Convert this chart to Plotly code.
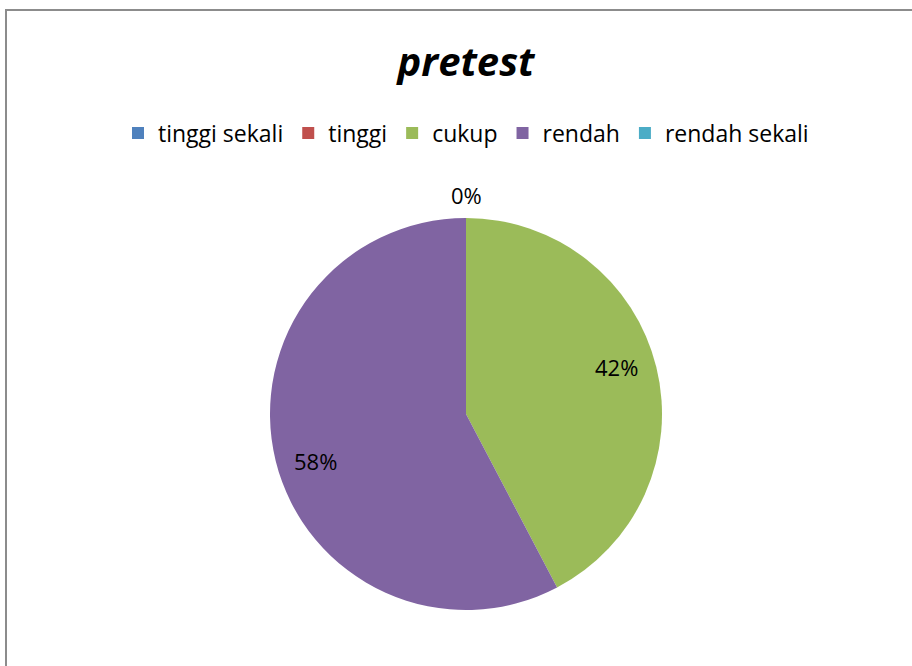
import math
import plotly.graph_objects as go

# data
labels = ["tinggi sekali", "tinggi", "cukup", "rendah", "rendah sekali"]
values = [0, 0, 11, 15, 0]
colors = ["#4F81BD", "#C0504D", "#9BBB59", "#8064A2", "#4BACC6"]

W, H = 912, 666
ML, MR, MT, MB = 20, 0, 218, 56
pw, ph = W - ML - MR, H - MT - MB
R = min(pw, ph) / 2
lab_font = dict(family="Open Sans, sans-serif", size=22, color="black")

total = sum(values)

fig = go.Figure()
fig.add_trace(go.Pie(
    labels=labels,
    values=values,
    marker=dict(colors=colors),
    sort=False,
    direction="clockwise",
    rotation=0,
    textinfo="none",
    showlegend=True,
))

# data labels, placed like Excel (inside, ~0.79 of the radius)
cum = 0
zero_done = False
for v in values:
    frac = v / total
    if v == 0:
        if not zero_done:
            fig.add_annotation(
                text=f"{frac:.0%}", x=0.5, y=1.0, xref="paper", yref="paper",
                xanchor="center", yanchor="bottom", yshift=6, showarrow=False,
                font=lab_font,
            )
            zero_done = True
        continue
    mid = (cum + frac / 2) * 2 * math.pi
    cum += frac
    r = 0.79 * R
    fig.add_annotation(
        text=f"{frac:.0%}", xref="paper", yref="paper",
        x=0.5 + r * math.sin(mid) / pw, y=0.5 + r * math.cos(mid) / ph,
        xanchor="center", yanchor="middle", yshift=10 * math.sin(mid),
        showarrow=False, font=lab_font,
    )

# chart area border
fig.add_shape(
    type="rect", xref="paper", yref="paper",
    x0=(6 - ML) / pw, x1=1.2, y0=-0.3, y1=(H - MB - 10) / ph,
    line=dict(color="#8c8c8c", width=2), fillcolor="rgba(0,0,0,0)",
)

fig.update_layout(
    width=W, height=H,
    paper_bgcolor="white", plot_bgcolor="white",
    margin=dict(l=ML, r=MR, t=MT, b=MB),
    title=dict(
        text="<b><i>pretest</i></b>", x=466 / W, xanchor="center",
        yref="container", y=1 - 62 / H, yanchor="middle",
        font=dict(family="Open Sans, sans-serif", size=40, color="black"),
    ),
    legend=dict(
        orientation="h", x=0.5, xanchor="center",
        yref="container", y=1 - 133 / H, yanchor="middle",
        font=dict(family="Open Sans, sans-serif", size=23, color="black"),
        traceorder="normal", itemwidth=30,
    ),
    font=dict(family="Open Sans, sans-serif"),
)

fig.write_html("out.html", config={"displayModeBar": False},
               post_script="document.body.style.margin='0';")
